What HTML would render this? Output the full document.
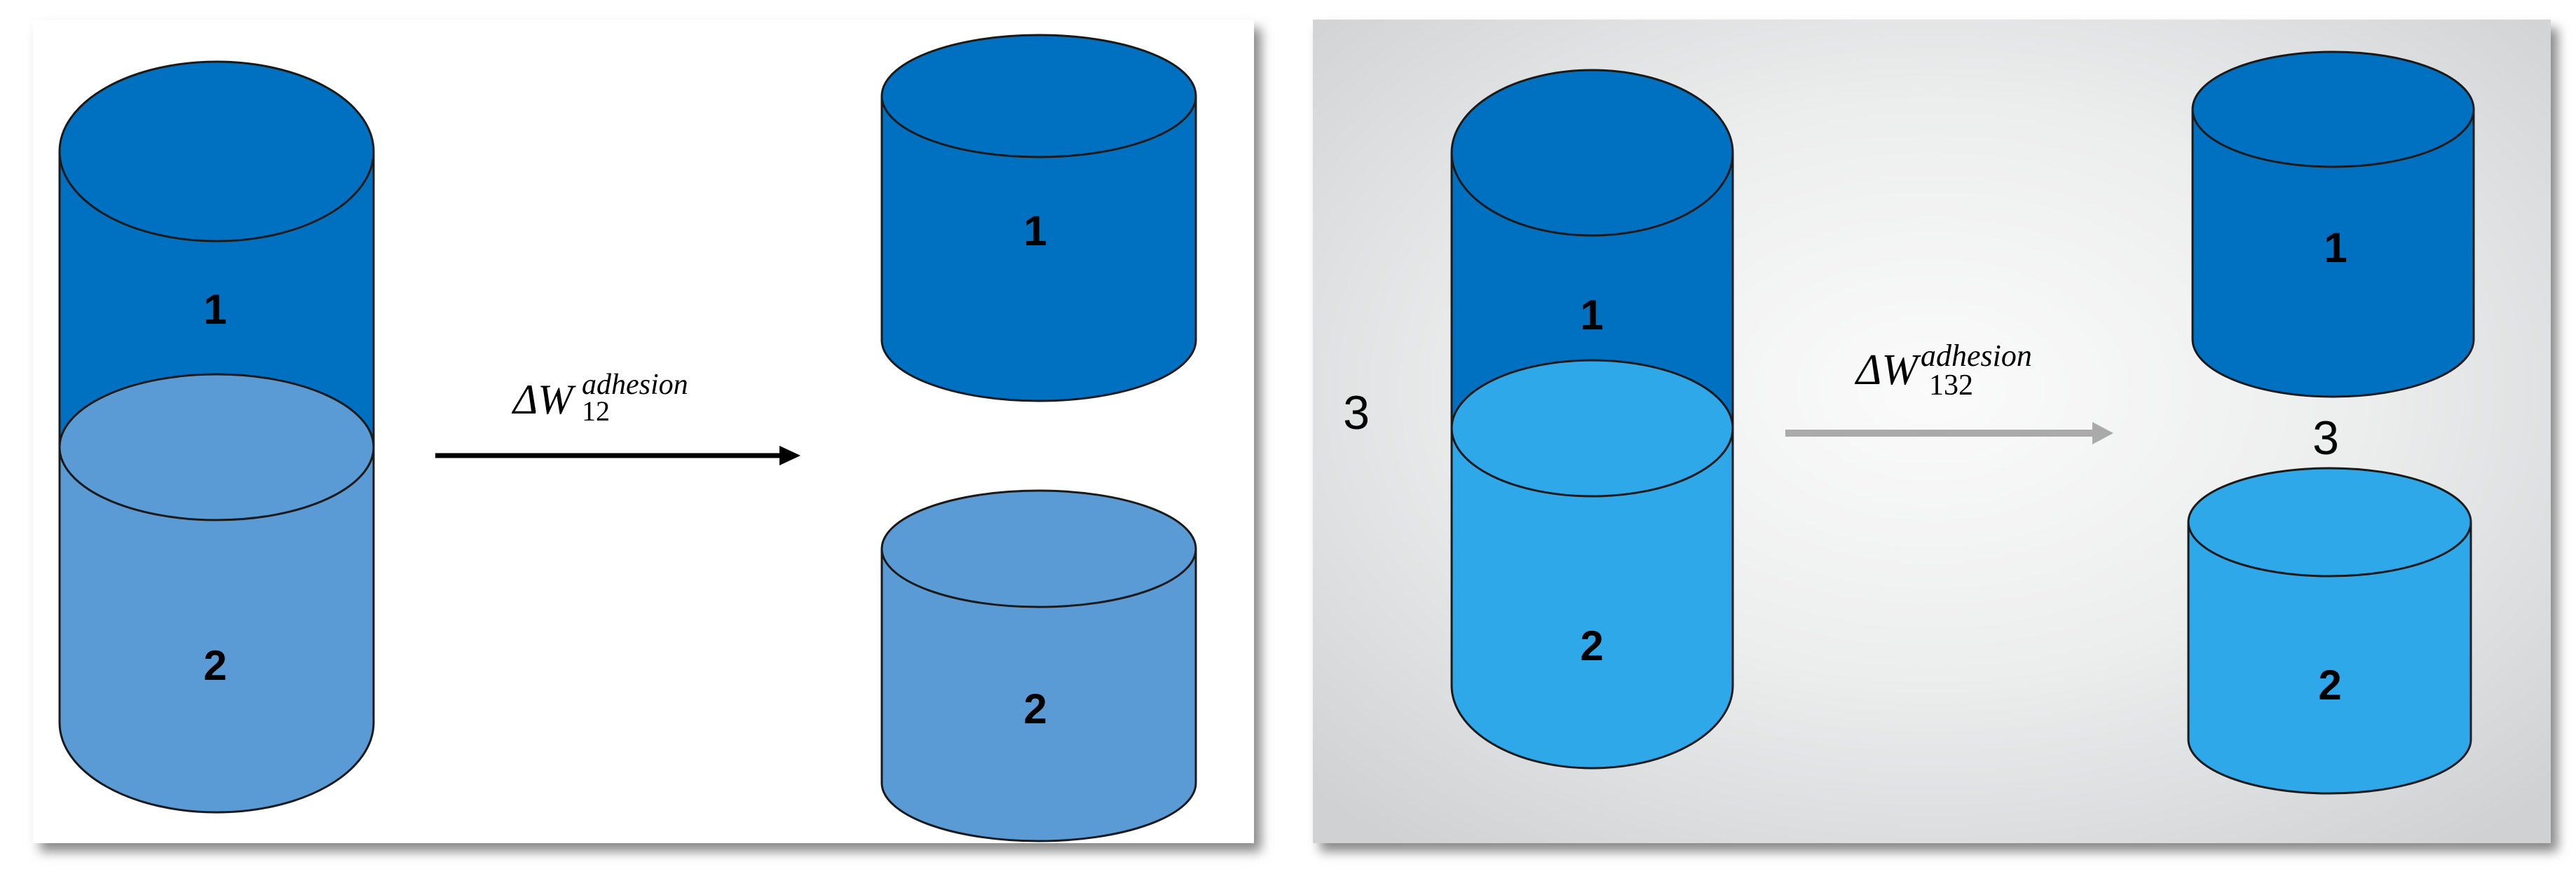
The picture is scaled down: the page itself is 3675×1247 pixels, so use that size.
<!DOCTYPE html>
<html><head><meta charset="utf-8"><style>
html,body{margin:0;padding:0;background:#fff;}
svg{display:block;}
</style></head><body>
<svg width="3675" height="1247" viewBox="0 0 3675 1247" xmlns="http://www.w3.org/2000/svg">
<defs>
<radialGradient id="bg" cx="0.5" cy="0.45" r="0.7">
<stop offset="0" stop-color="#fbfbfb"/>
<stop offset="0.5" stop-color="#eceded"/>
<stop offset="1" stop-color="#cfd1d3"/>
</radialGradient>
<filter id="sh" x="-5%" y="-5%" width="110%" height="110%">
<feGaussianBlur stdDeviation="8"/>
</filter>
</defs>
<rect x="0" y="0" width="3675" height="1247" fill="#fff"/>
<rect x="57" y="40" width="1742" height="1175" fill="#888" filter="url(#sh)"/>
<rect x="1883" y="40" width="1766" height="1175" fill="#888" filter="url(#sh)"/>
<rect x="47" y="28" width="1742" height="1175" fill="#fff"/>
<rect x="1873" y="28" width="1766" height="1175" fill="url(#bg)"/>

<g stroke="#1a1a1a" stroke-width="3">
<path d="M85,638 L85,1031 A224,128 0 0 0 533,1031 L533,638 Z" fill="#5B9BD5"/>
<path d="M85,216 L85,638 A224,104 0 0 0 533,638 L533,216 Z" fill="#0070C0" stroke="none"/>
<path d="M85,216 L85,638 M533,216 L533,638" fill="none"/>
<ellipse cx="309" cy="638" rx="224" ry="104" fill="#5B9BD5"/>
<ellipse cx="309" cy="216" rx="224" ry="128" fill="#0070C0"/>
<path d="M1258,137 L1258,485 A224,87 0 0 0 1706,485 L1706,137 Z" fill="#0070C0"/>
<ellipse cx="1482" cy="137" rx="224" ry="87" fill="#0070C0"/>
<path d="M1258,783 L1258,1117 A224,83 0 0 0 1706,1117 L1706,783 Z" fill="#5B9BD5"/>
<ellipse cx="1482" cy="783" rx="224" ry="83" fill="#5B9BD5"/>

<path d="M2071,611 L2071,978 A200.5,118 0 0 0 2472,978 L2472,611 Z" fill="#2EA8E8"/>
<path d="M2071,218 L2071,611 A200.5,97 0 0 0 2472,611 L2472,218 Z" fill="#0070C0" stroke="none"/>
<path d="M2071,218 L2071,611 M2472,218 L2472,611" fill="none"/>
<ellipse cx="2271.5" cy="611" rx="200.5" ry="97" fill="#2EA8E8"/>
<ellipse cx="2271.5" cy="218" rx="200.5" ry="118" fill="#0070C0"/>
<path d="M3128,156 L3128,484 A200.5,82 0 0 0 3529,484 L3529,156 Z" fill="#0070C0"/>
<ellipse cx="3328.5" cy="156" rx="200.5" ry="82" fill="#0070C0"/>
<path d="M3122,745 L3122,1055 A201.5,77 0 0 0 3525,1055 L3525,745 Z" fill="#2EA8E8"/>
<ellipse cx="3323.5" cy="745" rx="201.5" ry="77" fill="#2EA8E8"/>
</g>

<line x1="621" y1="650" x2="1120" y2="650" stroke="#000" stroke-width="7"/>
<polygon points="1112,636 1142,650 1112,664" fill="#000"/>
<line x1="2547" y1="618" x2="2995" y2="618" stroke="#aaaaaa" stroke-width="10"/>
<polygon points="2985,602 3015,618 2985,634" fill="#aaaaaa"/>

<g font-family="Liberation Sans, sans-serif" font-size="60" font-weight="bold" fill="#000" text-anchor="middle">
<text x="307" y="462">1</text>
<text x="307" y="970">2</text>
<text x="1477" y="350">1</text>
<text x="1477" y="1032">2</text>
<text x="2271" y="470">1</text>
<text x="2271" y="942">2</text>
<text x="3332" y="374">1</text>
<text x="3324" y="998">2</text>
</g>
<g font-family="Liberation Sans, sans-serif" font-size="68" fill="#000" text-anchor="middle">
<text x="1935" y="612">3</text>
<text x="3318" y="648">3</text>
</g>
<g font-family="Liberation Serif, serif" fill="#000">
<text x="732" y="590" font-size="60" font-style="italic">ΔW</text>
<text x="830" y="562" font-size="42" font-style="italic">adhesion</text>
<text x="830" y="600" font-size="40">12</text>
<text x="2648" y="548" font-size="62" font-style="italic">ΔW</text>
<text x="2740" y="522" font-size="44" font-style="italic">adhesion</text>
<text x="2752" y="563" font-size="42">132</text>
</g>
</svg>
</body></html>
